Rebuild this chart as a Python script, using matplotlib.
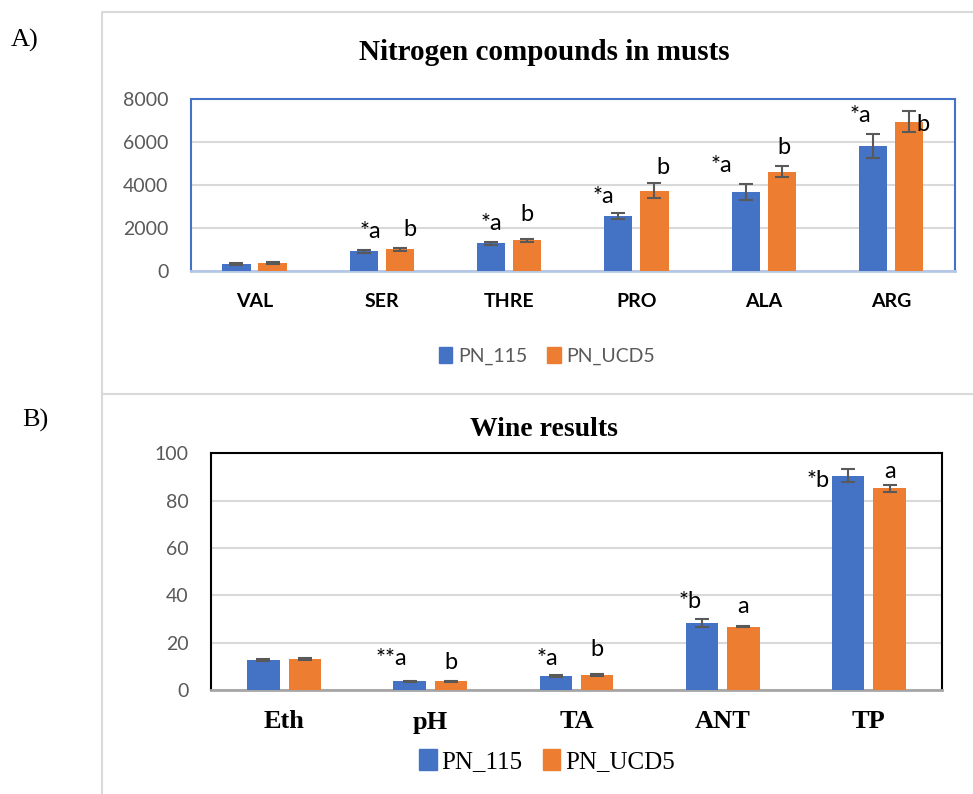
import matplotlib
matplotlib.use("Agg")
import matplotlib.pyplot as plt
import numpy as np
from matplotlib.patches import Patch

# ---------------- data ----------------
musts_cats = ["VAL", "SER", "THRE", "PRO", "ALA", "ARG"]
musts_pn115 = [320, 900, 1280, 2550, 3680, 5820]
musts_pn115_err = [40, 70, 70, 150, 380, 550]
musts_ucd5 = [370, 1000, 1420, 3720, 4620, 6950]
musts_ucd5_err = [40, 80, 60, 350, 250, 510]
musts_lab115 = ["", "*a", "*a", "*a", "*a", "*a"]
musts_labucd5 = ["", "b", "b", "b", "b", "b"]

wine_cats = ["Eth", "pH", "TA", "ANT", "TP"]
wine_pn115 = [12.7, 3.7, 6.0, 28.3, 90.5]
wine_pn115_err = [0.5, 0.3, 0.3, 1.5, 2.7]
wine_ucd5 = [13.1, 3.7, 6.3, 26.8, 85.3]
wine_ucd5_err = [0.4, 0.3, 0.3, 0.3, 1.5]
wine_lab115 = ["", "**a", "*a", "*b", "*b"]
wine_labucd5 = ["", "b", "b", "a", "a"]

series_names = ["PN_115", "PN_UCD5"]
BLUE = "#4472C4"
ORANGE = "#ED7D31"
GRID = "#D9D9D9"
TXT = "#595959"

W, H = 973, 794
fig = plt.figure(figsize=(W / 100, H / 100), dpi=100)
fig.patch.set_facecolor("white")

def px(x, y):
    return x / W, 1 - y / H

SANS = "Lato"
SERIF = "Liberation Serif"

# panel frames
frame = fig.add_axes([0, 0, 1, 1], zorder=-5)
frame.set_xlim(0, W); frame.set_ylim(H, 0); frame.axis("off")
frame.plot([102, 102, 980], [394, 12, 12], color=GRID, lw=1.5)
frame.plot([102, 980], [394, 394], color=GRID, lw=1.5)
frame.plot([102, 102], [394, 800], color=GRID, lw=1.5)

fig.text(*px(11, 40), "A)", fontsize=19, family=SERIF, va="center", ha="left")
fig.text(*px(22, 420), "B)", fontsize=19, family=SERIF, va="center", ha="left")

def draw(ax, cats, v1, e1, v2, e2, l1, l2, lab_dx, lab_dy, lab_fs):
    x = np.arange(len(cats))
    w = 0.222
    off = 0.142
    ek = dict(ecolor=TXT, elinewidth=1.5, capsize=5, capthick=1.5)
    ax.bar(x - off, v1, w, color=BLUE, yerr=e1, error_kw=ek, zorder=3)
    ax.bar(x + off, v2, w, color=ORANGE, yerr=e2, error_kw=ek, zorder=3)
    for i in range(len(cats)):
        for j, (vals, errs, labs, sgn) in enumerate(((v1, e1, l1, -1), (v2, e2, l2, 1))):
            if labs[i]:
                dx, dy = lab_dx[j][i], lab_dy[j][i]
                ax.annotate(labs[i], (x[i] + sgn * off, vals[i] + errs[i]),
                            xytext=(dx, dy), textcoords="offset pixels",
                            ha="center", va="bottom", fontsize=lab_fs,
                            family=SANS, color="black", annotation_clip=False)
    ax.set_xlim(-0.5, len(cats) - 0.5)
    ax.set_xticks([])
    ax.yaxis.grid(True, color=GRID, lw=1.5, zorder=0)
    ax.set_axisbelow(True)
    ax.tick_params(axis="y", length=0, pad=16, labelsize=14, labelcolor=TXT)
    for t in ax.get_yticklabels():
        t.set_family(SANS)

# ---------- Panel A ----------
l, b = px(190.8, 270.7)
axA = fig.add_axes([l, b, 763.9 / W, 171.7 / H])
dxA = [[0, 7, 0, -15, -24, -13], [0, 10, 0, 8, 2, 14]]
dyA = [[0, 8, 8, 6, 8, 8], [0, 8, 14, 5, 8, -24]]
draw(axA, musts_cats, musts_pn115, musts_pn115_err, musts_ucd5, musts_ucd5_err,
     musts_lab115, musts_labucd5, dxA, dyA, 17)
axA.set_ylim(0, 8000)
axA.set_yticks([0, 2000, 4000, 6000, 8000])
for s in ["top", "left", "right"]:
    axA.spines[s].set_color(BLUE); axA.spines[s].set_linewidth(1.5)
axA.spines["bottom"].set_color("#B4C7E7"); axA.spines["bottom"].set_linewidth(2)
for i, c in enumerate(musts_cats):
    axA.text(i, -(302 - 270.7) / 171.7, c, transform=axA.get_xaxis_transform(),
             ha="center", va="center", fontsize=14, fontweight="bold", family=SANS)
fig.text(*px(544, 52), "Nitrogen compounds in musts", ha="center", va="center",
         fontsize=21, fontweight="bold", family=SERIF)
handles = [Patch(color=BLUE), Patch(color=ORANGE)]
fig.legend(handles, series_names, loc="center", bbox_to_anchor=px(547, 356), ncol=2,
           frameon=False, prop={"family": SANS, "size": 14}, handlelength=0.7,
           handleheight=0.9, handletextpad=0.3, columnspacing=1.0, labelcolor=TXT)

# ---------- Panel B ----------
l, b = px(211, 690)
axB = fig.add_axes([l, b, 731 / W, 236.7 / H])
dxB = [[0, -18, -8, -12, -30], [0, 0, 0, 0, 0]]
dyB = [[0, 12, 6, 7, -22], [0, 8, 14, 9, 3]]
draw(axB, wine_cats, wine_pn115, wine_pn115_err, wine_ucd5, wine_ucd5_err,
     wine_lab115, wine_labucd5, dxB, dyB, 17)
axB.set_ylim(0, 100)
axB.set_yticks([0, 20, 40, 60, 80, 100])
for s in ["top", "left", "right"]:
    axB.spines[s].set_color("black"); axB.spines[s].set_linewidth(1.5)
axB.spines["bottom"].set_color("#A6A6A6"); axB.spines["bottom"].set_linewidth(2)
for i, c in enumerate(wine_cats):
    axB.text(i, -(722 - 690) / 236.7, c, transform=axB.get_xaxis_transform(),
             ha="center", va="center", fontsize=19, fontweight="bold", family=SERIF)
fig.text(*px(544, 429), "Wine results", ha="center", va="center",
         fontsize=20, fontweight="bold", family=SERIF)
fig.legend(handles, series_names, loc="center", bbox_to_anchor=px(547, 761), ncol=2,
           frameon=False, prop={"family": SERIF, "size": 18}, handlelength=0.7,
           handleheight=0.9, handletextpad=0.2, columnspacing=0.8)

fig.savefig("out.png", dpi=100)
